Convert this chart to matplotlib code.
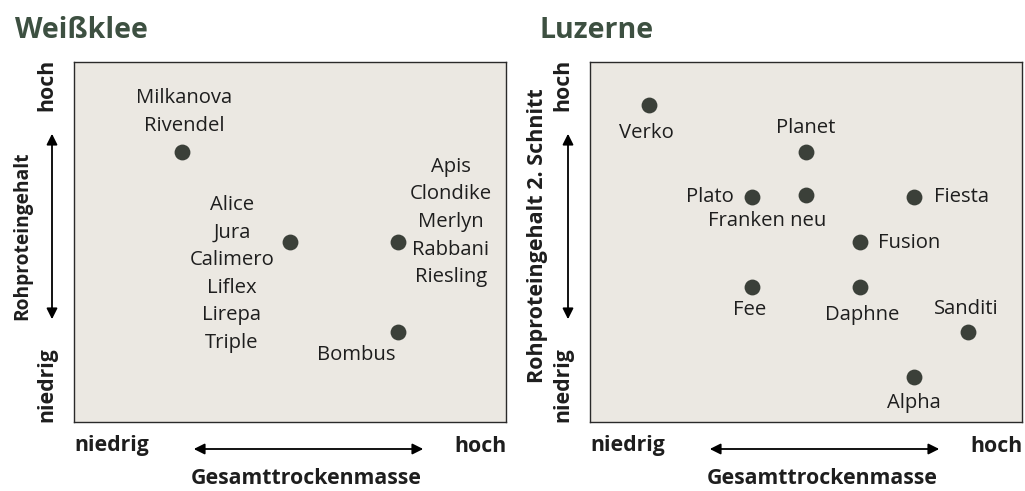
import matplotlib.pyplot as plt
from matplotlib.patches import FancyArrowPatch

# Weißklee: Gesamttrockenmasse (x) vs Rohproteingehalt (y), Skala 0..8
wk_labels = ["Milkanova\nRivendel",
             "Alice\nJura\nCalimero\nLiflex\nLirepa\nTriple",
             "Apis\nClondike\nMerlyn\nRabbani\nRiesling",
             "Bombus"]
wk_x = [2, 4, 6, 6]
wk_y = [6, 4, 4, 2]

# Luzerne: Gesamttrockenmasse (x) vs Rohproteingehalt 2. Schnitt (y)
lu_labels = ["Verko", "Planet", "Plato", "Franken neu", "Fiesta",
             "Fusion", "Fee", "Daphne", "Sanditi", "Alpha"]
lu_x = [1.1, 4, 3, 4, 6, 5, 3, 5, 7, 6]
lu_y = [7.05, 6, 5, 5.05, 5, 4, 3, 3, 2, 1]

# label placement (offset pixels, alignment)
wk_pos = [((2, 40), "center"), ((-58, -32), "center"),
          ((53, 20), "center"), ((-42, -23), "center")]
lu_pos = [((-3, -28), "center"), ((0, 24), "center"), ((-18, 0), "right"),
          ((-39, -26), "center"), ((20, 0), "left"), ((18, -1), "left"),
          ((-2, -23), "center"), ((2, -28), "center"), ((-2, 23), "center"),
          ((0, -26), "center")]

plt.rcParams["font.family"] = ["Open Sans", "DejaVu Sans"]
TITLE_COL = "#3d5041"
DOT_COL = "#3b4039"
BOX_COL = "#ebe8e2"
TXT = "#1e1e1e"
LAB_FS = 14.6
BOLD_FS = 15.3

fig = plt.figure(figsize=(10.25, 4.91), dpi=100)


def pix(x, y):
    # pixel coords (top-left origin) -> figure fraction
    return x / 1025, 1 - y / 491


def panel(left_px, title, title_x, ylabel, ylabel_fs, xs, ys, labels, pos):
    x0, y0 = pix(left_px, 422)
    ax = fig.add_axes([x0, y0, 432 / 1025, 360 / 491])
    ax.set_facecolor(BOX_COL)
    ax.set_xlim(0, 8)
    ax.set_ylim(0, 8)
    ax.set_xticks([])
    ax.set_yticks([])
    for s in ax.spines.values():
        s.set_linewidth(1.0)
        s.set_color("#2a2a2a")
    ax.scatter(xs, ys, s=130, color=DOT_COL, zorder=3, linewidths=0)
    for lab, x, y, (off, ha) in zip(labels, xs, ys, pos):
        ax.annotate(lab, (x, y), xytext=off, textcoords="offset pixels",
                    ha=ha, va="center", fontsize=LAB_FS, color=TXT,
                    linespacing=1.51)

    # title
    fig.text(*pix(title_x, 30), title, fontsize=20.5, fontweight="bold",
             color=TITLE_COL, ha="left", va="center")

    # y-axis annotations
    ax_x = left_px - 22
    fig.text(*pix(ax_x - 5, 85), "hoch", rotation=90, fontsize=BOLD_FS,
             fontweight="bold", color=TXT, ha="center", va="center")
    fig.text(*pix(ax_x - 5, 385), "niedrig", rotation=90, fontsize=BOLD_FS,
             fontweight="bold", color=TXT, ha="center", va="center")
    fig.text(*pix(ax_x - 30, 236), ylabel, rotation=90, fontsize=ylabel_fs,
             fontweight="bold", color=TXT, ha="center", va="center")
    fig.patches.append(FancyArrowPatch(
        pix(ax_x, 322), pix(ax_x, 131), transform=fig.transFigure,
        arrowstyle="<|-|>", mutation_scale=16, color="black", lw=1.3))

    # x-axis annotations
    fig.text(*pix(left_px, 446), "niedrig", fontsize=BOLD_FS,
             fontweight="bold", color=TXT, ha="left", va="center")
    fig.text(*pix(left_px + 433, 446), "hoch", fontsize=BOLD_FS,
             fontweight="bold", color=TXT, ha="right", va="center")
    fig.text(*pix(left_px + 232, 479), "Gesamttrockenmasse", fontsize=BOLD_FS,
             fontweight="bold", color=TXT, ha="center", va="center")
    fig.patches.append(FancyArrowPatch(
        pix(left_px + 117, 449), pix(left_px + 352, 449),
        transform=fig.transFigure, arrowstyle="<|-|>", mutation_scale=16,
        color="black", lw=1.3))
    return ax


panel(74, "Weißklee", 15, "Rohproteingehalt", 13.8,
      wk_x, wk_y, wk_labels, wk_pos)
panel(590, "Luzerne", 540, "Rohproteingehalt 2. Schnitt", 15.5,
      lu_x, lu_y, lu_labels, lu_pos)

fig.savefig("out.png", dpi=100, facecolor="white")
